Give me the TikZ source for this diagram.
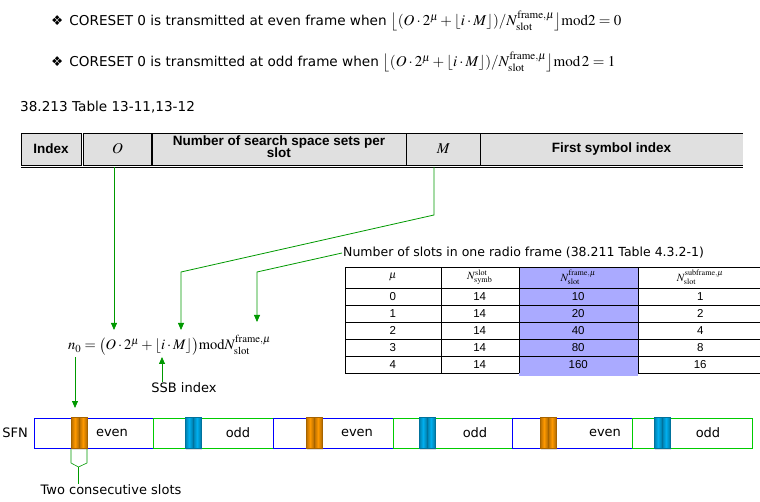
\documentclass[tikz,border=0pt]{standalone}
\usepackage{mathptmx}
\usepackage{fontspec}
\setmainfont{Liberation Serif}
\newfontfamily\vfont{DejaVu Sans}
\newfontfamily\afont{Liberation Sans}
\usetikzlibrary{positioning,arrows.meta,matrix,shadows}

\definecolor{arrowgreen}{RGB}{0,153,0}
\definecolor{evenblue}{RGB}{0,0,255}
\definecolor{oddgreen}{RGB}{0,204,0}
\definecolor{hdrgray}{RGB}{224,224,224}
\definecolor{hlblue}{RGB}{170,170,255}
\definecolor{slotorange}{RGB}{255,153,0}
\definecolor{slotblue}{RGB}{0,176,240}

\newcommand\nsshdr{\begin{tabular}{@{}c@{}}Number of search space sets per\\[-2pt]slot\end{tabular}}
\newcommand\nslot[1]{N^{\mathrm{#1}}_{\mathrm{slot}}}

\tikzset{
	conn/.style={draw=arrowgreen, line width=0.8pt},
	vtext/.style={font=\vfont\fontsize{12.5}{14}\selectfont, inner sep=1pt},
	ttext/.style={font=\vfont\fontsize{13.6}{15}\selectfont, inner sep=0pt, anchor=west},
	framebox/.style={draw, line width=1pt, minimum width=119.7pt, minimum height=30pt,
		inner sep=0pt, outer sep=0pt, anchor=north west},
	slotbar/.style={draw=#1!65!black, line width=0.4pt, minimum width=8pt, minimum height=31pt,
		inner sep=0pt, outer sep=0pt, anchor=north west,
		left color=#1!70!black, right color=#1!70!black, middle color=#1,
		drop shadow={shadow xshift=0.5pt, shadow yshift=-2pt, opacity=0.25}}
}

\begin{document}
\begin{tikzpicture}[x=1pt,y=-1pt,>={Triangle[width=6pt,length=7pt]}]
	\useasboundingbox (0,0) rectangle (760,502);

	% condition lines
	\node[ttext] (evenLine) at (51,21) {❖\hspace{6pt}CORESET 0 is transmitted at even frame when\hspace{4pt}%
		{\fontsize{15}{17}\selectfont$\big\lfloor(O\cdot 2^{\mu}+\lfloor i\cdot M\rfloor)/\nslot{frame,\mu}\big\rfloor\mathrm{mod}2=0$}};
	\node[ttext] (oddLine) at (51,62) {❖\hspace{6pt}CORESET 0 is transmitted at odd frame when\hspace{4pt}%
		{\fontsize{15}{17}\selectfont$\big\lfloor(O\cdot 2^{\mu}+\lfloor i\cdot M\rfloor)/\nslot{frame,\mu}\big\rfloor\mathrm{mod}\,2=1$}};
	\node[ttext] (tblRef) at (20,107) {38.213 Table 13-11,13-12};

	% header of table 13-11
	\matrix (hdr) [matrix of nodes, anchor=north west,%
	column sep=-\pgflinewidth,%
	nodes={draw, fill=hdrgray, line width=0.9pt,%
		minimum height=32pt, outer sep=0pt, inner sep=1pt,%
		anchor=center, font=\afont\bfseries\fontsize{13.5}{14}\selectfont},
	column 1/.style={nodes={minimum width=60pt}},
	column 2/.style={nodes={minimum width=68pt, font=\fontsize{15}{16}\selectfont}},
	column 3/.style={nodes={minimum width=254pt}},
	column 4/.style={nodes={minimum width=74pt, font=\fontsize{15}{16}\selectfont}},
	column 5/.style={nodes={minimum width=262pt, draw=none}}] at (17,129)
	{
		Index &[2pt] $O$ & \nsshdr & $M$ & First symbol index \\
	};
	\draw[line width=0.9pt] (hdr-1-5.north west) -- (hdr-1-5.north east);
	\draw[line width=0.9pt] (hdr-1-5.south west) -- (hdr-1-5.south east);
	\coordinate (hdrBase) at ([yshift=-2pt]hdr-1-1.south west);
	\draw[line width=0.9pt] (hdrBase) -- (hdrBase -| hdr-1-5.south east);

	% table 4.3.2-1
	\node[vtext, anchor=west] (nslotsTxt) at (342,253) {Number of slots in one radio frame (38.211 Table 4.3.2-1)};
	\matrix (slots) [matrix of nodes, anchor=north west,%
	column sep=-\pgflinewidth, row sep=-\pgflinewidth,%
	nodes={draw, minimum height=17pt, outer sep=0pt, inner sep=0pt,%
		anchor=center, font=\afont\fontsize{11.5}{12}\selectfont},
	row 1/.style={nodes={minimum height=21pt, font=\fontsize{11}{12}\selectfont}},
	column 1/.style={nodes={minimum width=96pt}},
	column 2/.style={nodes={minimum width=78pt}},
	column 3/.style={nodes={minimum width=119pt, fill=hlblue}},
	column 4/.style={nodes={minimum width=125pt}}] at (341,263)
	{
		$\mu$ & $N^{\mathrm{slot}}_{\mathrm{symb}}$ & $\nslot{frame,\mu}$ & $\nslot{subframe,\mu}$ \\
		0 & 14 & 10 & 1 \\
		1 & 14 & 20 & 2 \\
		2 & 14 & 40 & 4 \\
		3 & 14 & 80 & 8 \\
		4 & 14 & 160 & 16 \\
	};
	\fill[hlblue] (slots-6-3.south west) rectangle ([yshift=-3pt]slots-6-3.south east);

	% n0 formula
	\node[anchor=west, inner sep=0pt, font=\fontsize{14.5}{17}\selectfont] (nzero) at (68,345)
		{$n_0=\bigl(O\cdot 2^{\mu}+\lfloor i\cdot M\rfloor\bigr)\mathrm{mod}\nslot{frame,\mu}$};
	\coordinate (oTip) at (114,330);
	\coordinate (mBend) at (434,215);
	\coordinate (imBend) at (181,272);
	\coordinate (imTip) at (181,330);
	\coordinate (nBend) at (257,272);
	\coordinate (nTip) at (257,322);
	\coordinate (iTip) at (162,357);
	\coordinate (nzeroBase) at (75,357);
	\coordinate (nzeroTip) at (75,408);

	\draw[conn,->] (hdrBase -| oTip) -- (oTip);
	\draw[conn,->] (hdrBase -| mBend) -- (mBend) -- (imBend) -- (imTip);
	\draw[conn,->] (nslotsTxt.west) -- (nBend) -- (nTip);

	\node[vtext, font=\vfont\fontsize{13}{14}\selectfont] (ssb) at (184,388) {SSB index};
	\draw[conn,->] (ssb.north -| iTip) -- (iTip);

	% SFN row
	\foreach \k/\lbl/\bc/\sx/\lx in {1/even/evenblue/71/112,
		2/odd/oddgreen/185/238, 3/even/evenblue/306/357,
		4/odd/oddgreen/419/475, 5/even/evenblue/540/605,
		6/odd/oddgreen/654/708}
	{
		\node[framebox, draw=\bc] (f\k) at ({34+119.7*(\k-1)},418) {};
		\node[vtext, font=\vfont\fontsize{13}{14}\selectfont] (l\k) at (\lx,433) {\lbl};
	}
	\foreach \k/\sc/\sx in {1/slotorange/71, 2/slotblue/185, 3/slotorange/306,
		4/slotblue/419, 5/slotorange/540, 6/slotblue/654}
	{
		\node[slotbar=\sc] (s\k-a) at (\sx,417) {};
		\node[slotbar=\sc, right=0pt of s\k-a] (s\k-b) {};
	}
	\node[vtext, font=\vfont\fontsize{13}{14}\selectfont, left=5pt of f1] (sfn) {SFN};
	\draw[conn,->] (nzeroBase) -- (nzeroTip);

	% two consecutive slots
	\coordinate (braceTip) at (78.5,467);
	\draw[conn, line width=0.6pt] ([yshift=-1pt]s1-a.south west) -- ++(0,14) -- (braceTip)
		-- ([yshift=-15pt]s1-b.south east) -- ([yshift=-1pt]s1-b.south east);
	\node[vtext, font=\vfont\fontsize{13}{14}\selectfont] (twoTxt) at (111,490) {Two consecutive slots};
	\draw[conn, line width=0.6pt] (braceTip) -- (braceTip |- twoTxt.north);
\end{tikzpicture}
\end{document}
